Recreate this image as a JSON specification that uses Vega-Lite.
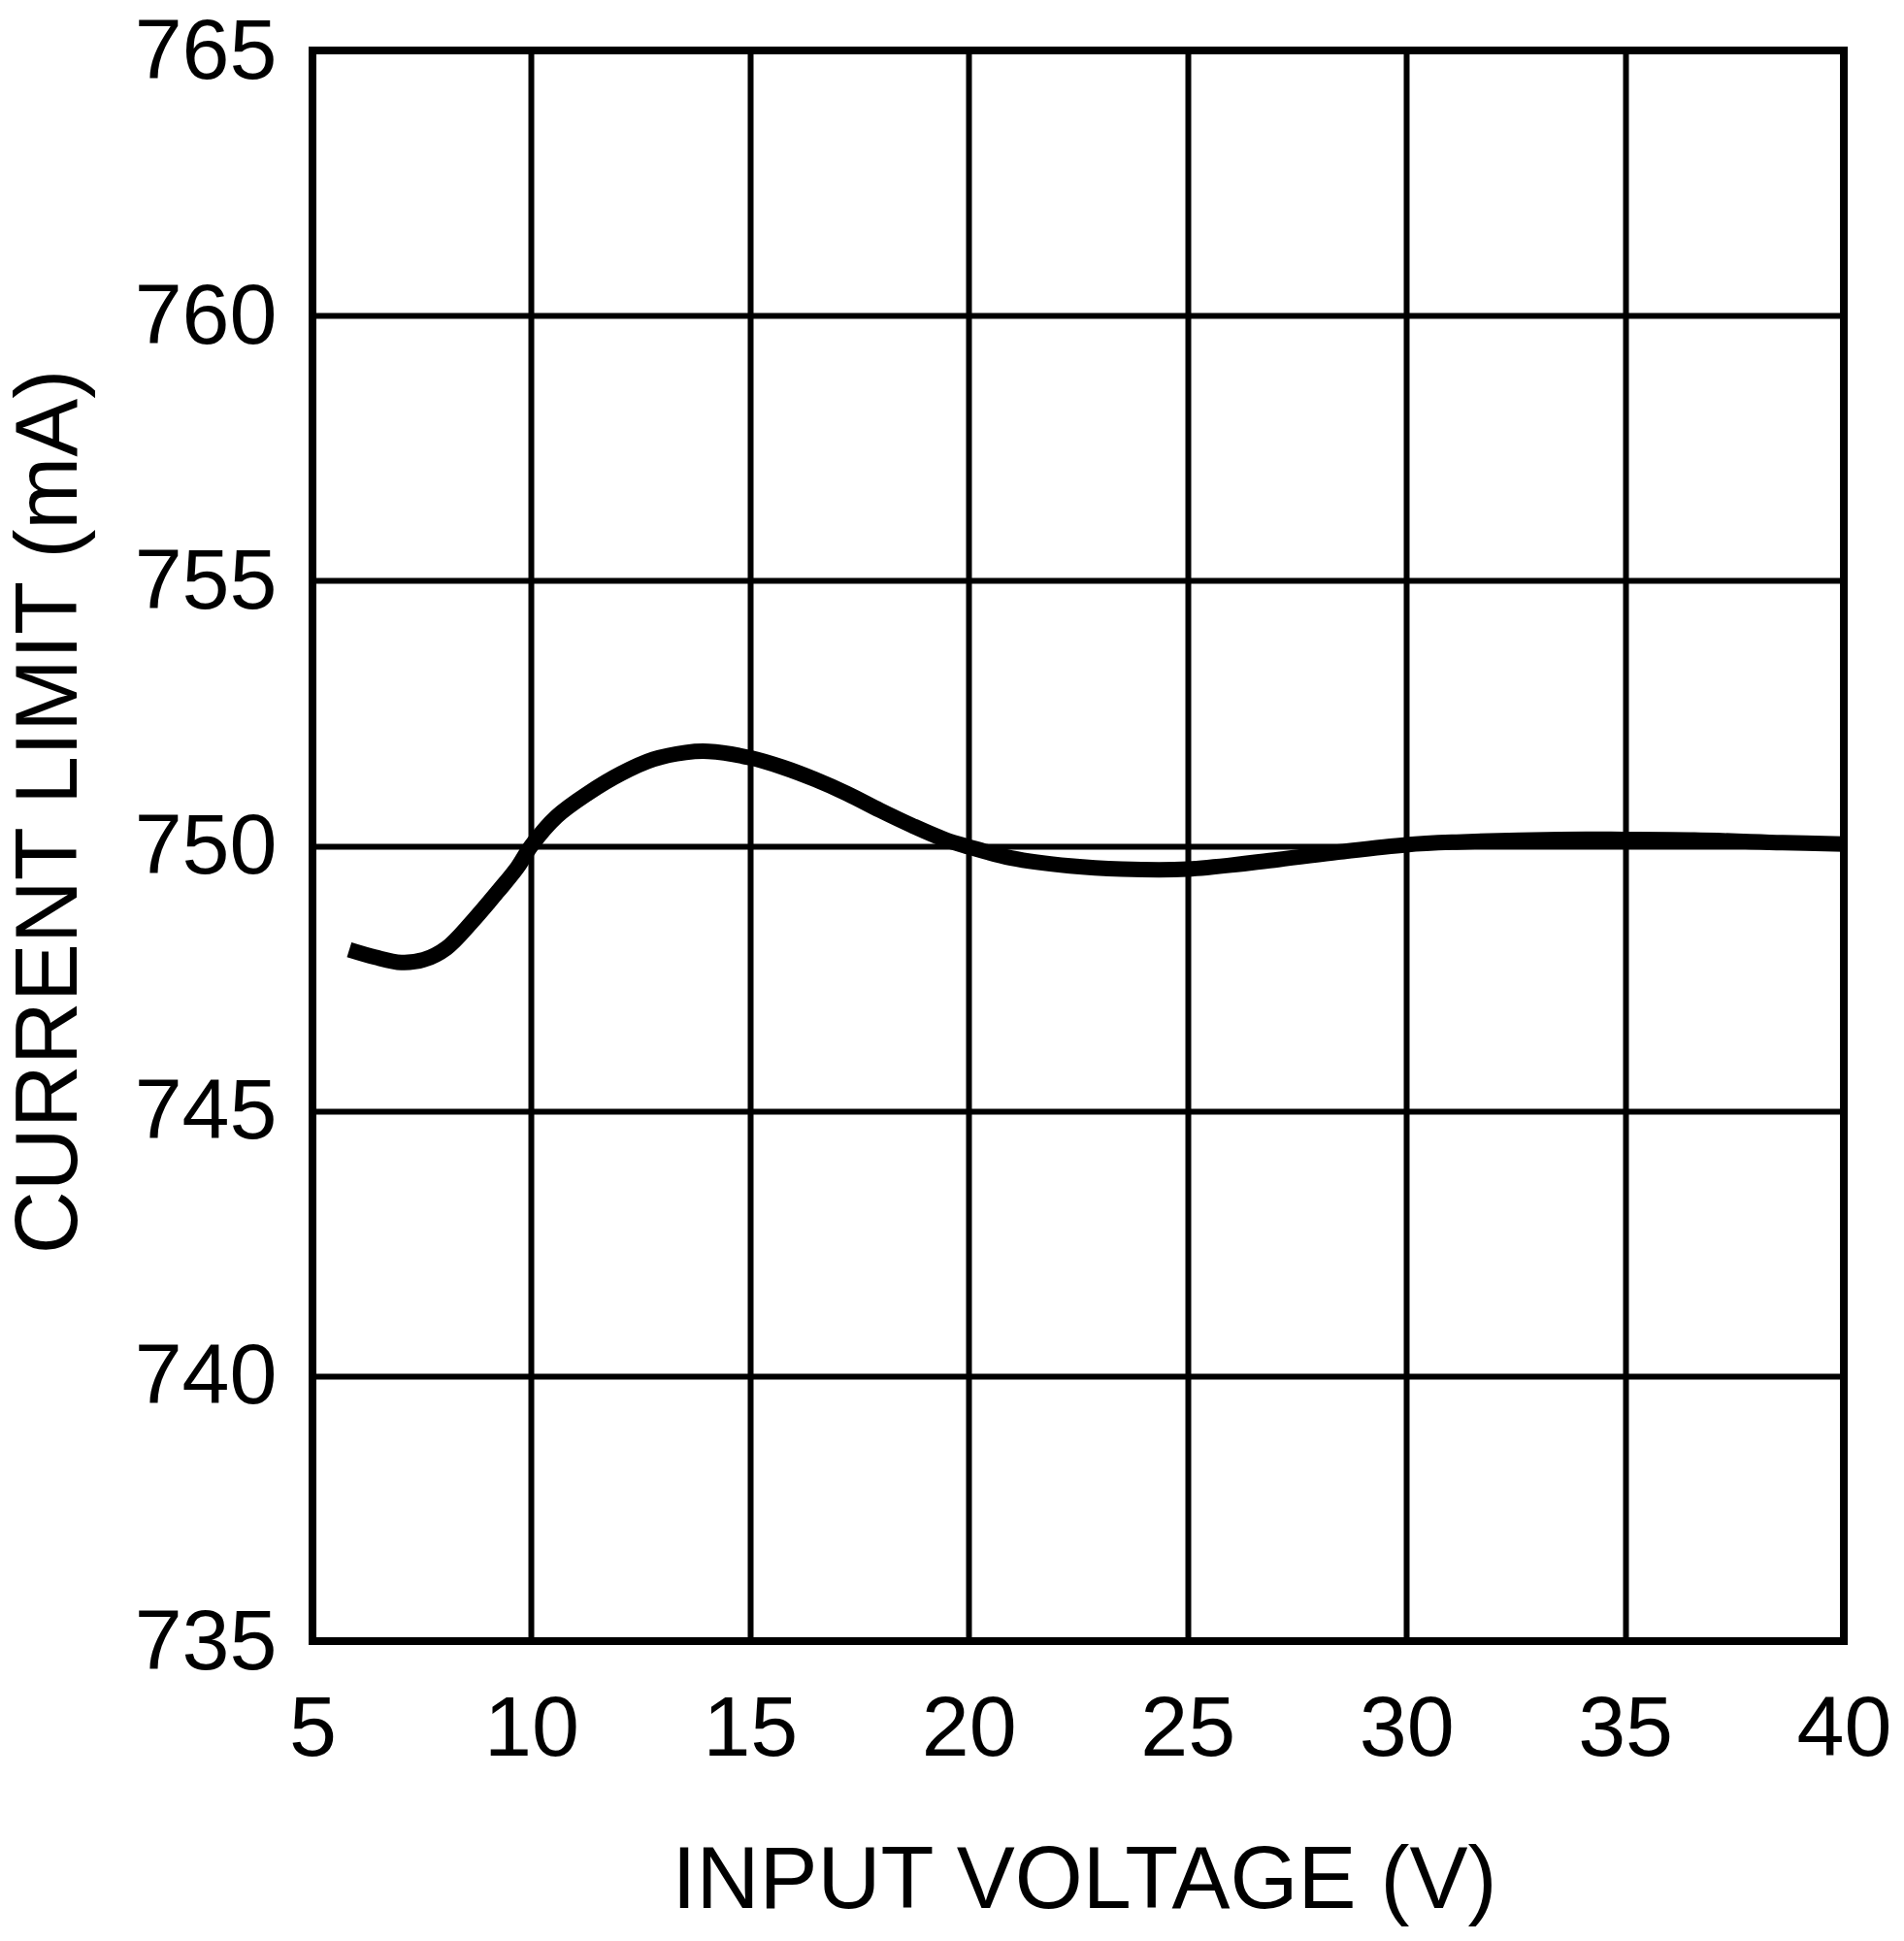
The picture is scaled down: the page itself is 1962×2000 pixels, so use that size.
{
  "$schema": "https://vega.github.io/schema/vega-lite/v6.json",
  "width": 1578,
  "height": 1639,
  "autosize": {"type": "none"},
  "padding": {"left": 322, "top": 52, "right": 62, "bottom": 309},
  "background": "white",
  "config": {
    "font": "Liberation Sans",
    "view": {"stroke": "black", "strokeWidth": 8},
    "axis": {
      "domain": false,
      "ticks": false,
      "tickSize": 0,
      "grid": true,
      "gridColor": "black",
      "gridWidth": 6,
      "gridOpacity": 1,
      "labelColor": "black",
      "labelFont": "Liberation Sans",
      "labelFontSize": 88,
      "labelFlush": false,
      "labelOverlap": false,
      "labelBound": false,
      "titleColor": "black",
      "titleFont": "Liberation Sans",
      "titleFontSize": 90,
      "titleFontWeight": "normal"
    }
  },
  "data": {
    "values": [
      {"vin": 5.84, "ilim": 748.04},
      {"vin": 6.43, "ilim": 747.9},
      {"vin": 7.03, "ilim": 747.8},
      {"vin": 7.54, "ilim": 747.85},
      {"vin": 8.06, "ilim": 748.07},
      {"vin": 8.65, "ilim": 748.57},
      {"vin": 9.24, "ilim": 749.14},
      {"vin": 9.69, "ilim": 749.6},
      {"vin": 10.0, "ilim": 750.0},
      {"vin": 10.58, "ilim": 750.55},
      {"vin": 11.3, "ilim": 750.99},
      {"vin": 12.05, "ilim": 751.36},
      {"vin": 12.79, "ilim": 751.63},
      {"vin": 13.53, "ilim": 751.76},
      {"vin": 14.05, "ilim": 751.78},
      {"vin": 15.0, "ilim": 751.66},
      {"vin": 15.75, "ilim": 751.48},
      {"vin": 16.49, "ilim": 751.25},
      {"vin": 17.23, "ilim": 750.98},
      {"vin": 17.97, "ilim": 750.67},
      {"vin": 18.71, "ilim": 750.38},
      {"vin": 19.45, "ilim": 750.12},
      {"vin": 20.0, "ilim": 749.98},
      {"vin": 20.97, "ilim": 749.77},
      {"vin": 22.32, "ilim": 749.62},
      {"vin": 23.5, "ilim": 749.56},
      {"vin": 25.0, "ilim": 749.56},
      {"vin": 27.07, "ilim": 749.74},
      {"vin": 28.44, "ilim": 749.88},
      {"vin": 30.0, "ilim": 750.02},
      {"vin": 31.15, "ilim": 750.07},
      {"vin": 33.5, "ilim": 750.12},
      {"vin": 35.0, "ilim": 750.12},
      {"vin": 36.58, "ilim": 750.11},
      {"vin": 38.6, "ilim": 750.06},
      {"vin": 40.0, "ilim": 750.03}
    ]
  },
  "mark": {
    "type": "line",
    "color": "black",
    "strokeWidth": 16,
    "strokeCap": "butt",
    "interpolate": "catmull-rom",
    "clip": true
  },
  "encoding": {
    "x": {
      "field": "vin",
      "type": "quantitative",
      "scale": {"domain": [5, 40], "nice": false, "zero": false},
      "axis": {
        "values": [5, 10, 15, 20, 25, 30, 35, 40],
        "format": "d",
        "labelBaseline": "alphabetic",
        "labelPadding": 117,
        "title": "INPUT VOLTAGE (V)",
        "titleBaseline": "alphabetic",
        "titleX": 795,
        "titleY": 274
      }
    },
    "y": {
      "field": "ilim",
      "type": "quantitative",
      "scale": {"domain": [735, 765], "nice": false, "zero": false},
      "axis": {
        "values": [735, 740, 745, 750, 755, 760, 765],
        "format": "d",
        "labelBaseline": "alphabetic",
        "labelOffset": 28,
        "labelPadding": 37,
        "title": "CURRENT LIMIT (mA)",
        "titleAngle": -90,
        "titleBaseline": "alphabetic",
        "titleX": -244,
        "titleY": 784
      }
    }
  }
}
